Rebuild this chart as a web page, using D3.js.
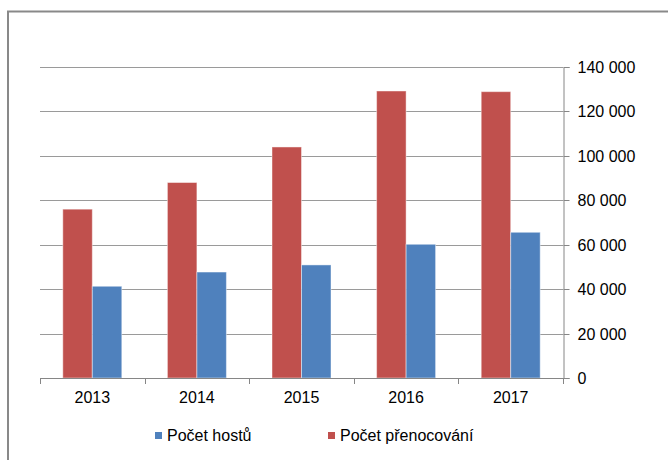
<!DOCTYPE html>
<html>
<head>
<meta charset="utf-8">
<script src="https://cdn.jsdelivr.net/npm/d3@7"></script>
<style>
  body { margin: 0; background: #fff; }
  svg { display: block; font-family: "Liberation Sans", Arial, sans-serif; }
</style>
</head>
<body>
<svg width="668" height="460"></svg>
<script>
// data
const years = ["2013", "2014", "2015", "2016", "2017"];
const nights = [76000, 88000, 104000, 129200, 128900];   // Počet přenocování
const guests = [41300, 47700, 50900, 60200, 65600];      // Počet hostů
const yTicks = [0, 20000, 40000, 60000, 80000, 100000, 120000, 140000];
const seriesNames = ["Počet přenocování", "Počet hostů"];
const legendOrder = ["Počet hostů", "Počet přenocování"];
const colors = {"Počet přenocování": "#c0504d", "Počet hostů": "#4f81bd"};

let svg = d3.select("svg");

// outer frame (cut off at right and bottom)
svg.append("path")
  .attr("d", "M8,470 L8,11.5 L680,11.5")
  .attr("fill", "none")
  .attr("stroke", "#898989")
  .attr("stroke-width", 2);

let pLeft = 40, pRight = 563, pTop = 67, pBottom = 378;

let x0 = d3.scaleBand().domain(years).range([pLeft, pRight]);
let x1 = d3.scaleBand().domain(seriesNames).range([0, x0.bandwidth()])
  .paddingInner(0).paddingOuter(0.773);
let y = d3.scaleLinear().domain([0, 140000]).range([pBottom, pTop]);

let fmt = d3.formatLocale({decimal: ",", thousands: "\u00a0", grouping: [3], currency: ["", ""]}).format(",d");

// gridlines
svg.append("g").selectAll("line").data(yTicks.filter(d => d > 0)).join("line")
  .attr("x1", pLeft).attr("x2", pRight)
  .attr("y1", d => Math.round(y(d)) + 0.5).attr("y2", d => Math.round(y(d)) + 0.5)
  .attr("stroke", "#9a9a9a");

// bars
let rows = years.map((yr, i) => ({year: yr, values: [
  {key: "Počet přenocování", value: nights[i]},
  {key: "Počet hostů", value: guests[i]}
]}));

svg.append("g").selectAll("g").data(rows).join("g")
  .attr("transform", d => `translate(${x0(d.year)},0)`)
  .selectAll("rect").data(d => d.values).join("rect")
  .attr("x", d => x1(d.key))
  .attr("width", x1.bandwidth())
  .attr("y", d => y(d.value))
  .attr("height", d => y(0) - y(d.value))
  .attr("fill", d => colors[d.key])
  .attr("stroke", "rgba(255,255,255,0.45)")
  .attr("stroke-width", 1);

// right y axis
let yAxis = d3.axisRight(y).tickValues(yTicks).tickSize(6).tickPadding(8).tickFormat(fmt);
let ya = svg.append("g").attr("transform", `translate(${pRight + 0.5},0)`).call(yAxis);
ya.select(".domain").attr("stroke", "#868686");
ya.selectAll(".tick line").attr("stroke", "#868686");
ya.selectAll(".tick text").attr("font-size", 16).attr("fill", "#000")
  .attr("font-family", "Liberation Sans, Arial, sans-serif");
ya.selectAll(".tick").attr("transform", d => `translate(0,${Math.round(y(d)) + 0.5})`);

// x axis line with ticks at band boundaries
let xa = svg.append("g");
xa.append("line")
  .attr("x1", pLeft).attr("x2", pRight + 0.5)
  .attr("y1", pBottom + 0.5).attr("y2", pBottom + 0.5)
  .attr("stroke", "#868686");
let bounds = years.map(d => x0(d)).concat([pRight]);
xa.selectAll("line.tk").data(bounds).join("line").attr("class", "tk")
  .attr("x1", d => Math.round(d) + 0.5).attr("x2", d => Math.round(d) + 0.5)
  .attr("y1", pBottom).attr("y2", pBottom + 6)
  .attr("stroke", "#868686");
xa.selectAll("text").data(years).join("text")
  .attr("x", d => x0(d) + x0.bandwidth() / 2)
  .attr("y", 403)
  .attr("text-anchor", "middle")
  .attr("font-size", 16)
  .text(d => d);

// legend
let legendX = {"Počet hostů": 155, "Počet přenocování": 328};
let lg = svg.append("g").selectAll("g").data(legendOrder).join("g")
  .attr("transform", d => `translate(${legendX[d]},432)`);
lg.append("rect").attr("width", 7).attr("height", 7).attr("fill", d => colors[d]);
lg.append("text").attr("x", 12).attr("y", 9).attr("font-size", 16).text(d => d);
</script>
</body>
</html>
